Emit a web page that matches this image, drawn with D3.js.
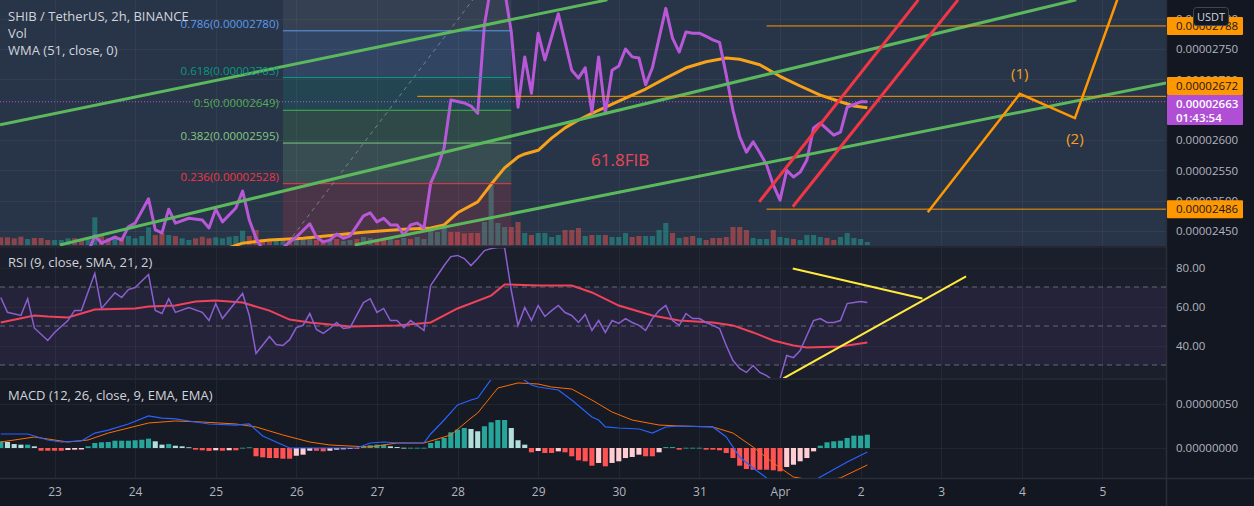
<!DOCTYPE html>
<html><head><meta charset="utf-8">
<script src="https://cdn.jsdelivr.net/npm/d3@7"></script>
<style>
html,body{margin:0;padding:0;background:#131722;overflow:hidden;}
svg{display:block;font-family:"Open Sans","Noto Sans",sans-serif;}
</style></head><body><svg id="c" width="1254" height="506"></svg>
<script>
// ================= DATA =================
// bar index k = number of 2h bars since 2021-03-23 00:00 UTC ; prices in 1e-8 USDT
const dayTicks  = ["2021-03-23","2021-03-24","2021-03-25","2021-03-26","2021-03-27","2021-03-28","2021-03-29","2021-03-30","2021-03-31","2021-04-01","2021-04-02","2021-04-03","2021-04-04","2021-04-05"];
const dayLabels = ["23","24","25","26","27","28","29","30","31","Apr","2","3","4","5"];
const priceTicks = [2450,2500,2550,2600,2700,2750,2800];
const rsiTicks = [40,60,80];
const rsiBands = [30,50,70];
const macdTicks = [0,5];

const price = [[4,2405],[5,2415],[6,2442],[7,2430],[9,2440],[10,2435],[11,2457],[12,2463],[14,2503],[15,2452],[16,2447],[17,2486],[18,2463],[20,2471],[22,2468],[23,2455],[24,2486],[25,2465],[27,2488],[28,2516],[29,2468],[30,2438],[31,2419],[32,2412],[33,2416],[34,2422],[35,2432],[36,2440],[38,2462],[39,2440],[40,2432],[41,2435],[42,2445],[43,2438],[44,2442],[46,2475],[47,2480],[48,2465],[49,2471],[50,2460],[51,2460],[52,2443],[53,2460],[54,2463],[55,2455],[56,2529],[57,2554],[58,2587],[59,2666],[61,2661],[62,2656],[63,2644],[64,2790],[65,2855],[66,2880],[67,2847],[68,2778],[69,2654],[70,2737],[71,2677],[72,2776],[73,2732],[75,2808],[77,2715],[78,2702],[79,2719],[80,2646],[81,2737],[82,2644],[83,2715],[84,2722],[85,2750],[86,2737],[87,2735],[88,2691],[89,2719],[91,2817],[92,2768],[93,2745],[94,2778],[95,2776],[96,2776],[97,2771],[98,2765],[99,2761],[100,2707],[101,2649],[102,2605],[103,2580],[104,2597],[105,2579],[106,2559],[107,2526],[108,2501],[109,2550],[110,2539],[111,2547],[112,2567],[113,2620],[114,2628],[116,2608],[117,2613],[118,2654],[120,2663],[121,2663]];
const wma = [[25,2419],[28,2430],[32,2435],[37,2438],[46,2448],[52,2453],[56,2455],[58,2460],[60,2480],[63,2498],[65,2527],[67,2554],[69,2572],[70,2577],[72,2583],[74,2603],[76,2620],[78,2633],[80,2644],[84,2664],[88,2684],[91,2702],[94,2719],[97,2729],[100,2735],[102,2733],[105,2724],[108,2705],[111,2689],[114,2674],[117,2663],[119,2656],[121,2653]];
const lastPrice = 2663, countdown = "01:43:54";

// volume per bar from k=-8 ; direction 1 = up candle, 0 = down candle
const volStart = -8;
const volume = [7.7,7.7,6.7,8.3,6,7,7,5,5,5,6.7,6.7,5,6.7, 27.7, 11,6.7,9,7.7,9,6.7,9,17.7,10,11.7,10,9,6.7,5,6.7,8.3,6.7,7.7,6.7,8.3,9,14.3,9,15,
 6,5,4,5,4,5,6,8,5,4,5,6,4,5,6,8,7,6,5,6,5,7,6,8,6,15,13,17,13,13,11.7,12,12,
 23,60,22,18,18,23,12,10,12,12,8,10,15,15,17,9,10,10,10,8,8,12,8,9,9,9,15,22,12,7,8,9,7,5,7,7,8,18,18,15,7,6,6,15,8,7,6,5,10,10,8,7,5,8,12,7,6,3];
const volDir = [0,0,0,0,1,0,0,0,1,1,1,0,0,1, 1, 0,0,1,0,1,1,1,1,0,0,1,0,1,1,0,0,0,1,1,1,1,1,0,0,
 0,0,1,1,0,1,1,1,0,0,1,0,1,1,0,1,1,0,0,1,0,1,0,1,1,1,1,1,0,0,0,0,0,
 1,1,1,1,0,0,1,0,1,1,1,1,0,0,0,1,0,1,0,1,1,1,0,0,1,1,1,1,0,1,0,0,1,0,0,0,0,0,0,0,1,1,1,0,1,1,0,1,1,1,1,0,0,1,1,1,1,1];

// Fibonacci retracement (drawn between bar 34 and bar 68)
const fibLevels = [0,0.236,0.382,0.5,0.618,0.786,1];
const fibPrices = [2420,2528,2595,2649,2703,2780,2878];
const fibColors = ["#787b86","#f23645","#81c784","#4caf50","#089981","#5d9cec","#787b86"];
const fibSpan = [34,68];
const fibTrend = [[34,2420],[65.5,2878]];

// user drawings  [bar, price]
const greenLines = [[[-8.1,2625],[82.3,2831]],[[0.8,2427],[152.1,2831]],[[44.7,2427],[165.5,2694]]];
const redLines = [[[104.9,2498],[128.6,2831]],[[109.9,2490],[134.5,2831]]];
const hLevels = [[2788,106],[2672,54],[2486,106]];
const wavePath = [[130,2481],[143.7,2676],[151.9,2636],[158.2,2831]];
const waveLabels = [["(1)",143.7,2676],["(2)",151.9,2636]];
const fibNote = ["61.8FIB",84.2,2567];

// RSI
const rsi = [[-8,64.6],[-7,57],[-5,55.4],[-4,64],[-3,49],[-1,42.6],[0,46.7],[2,52.8],[3,58],[4,58],[6,77],[7,59],[9,67],[10,64.6],[11,68.7],[12,69.7],[14,76.4],[15,58],[16,56.4],[17,64],[18,57],[20,59.5],[22,57],[23,52.8],[24,61.5],[25,53.8],[28,66.7],[29,55.4],[30,35.9],[32,44.6],[33,40.5],[34,40],[35,43],[36,49.2],[37,50.3],[38,56.4],[39,48.2],[40,46.2],[41,48.7],[42,51.8],[43,48.7],[44,49.2],[46,62],[47,64],[48,57],[49,59],[50,52.8],[51,52.8],[52,49.2],[53,52.8],[54,50.3],[55,47.7],[56,70.8],[57,75.9],[58,81],[59,85.6],[60,86.2],[61,84.6],[62,81],[63,84.6],[64,88.7],[65,89.7],[66,90.3],[67,90.3],[68,68.2],[69,50.3],[70,59.5],[71,52.8],[72,60.5],[73,54.9],[74,57.9],[75,60.5],[76,56.9],[77,55.4],[78,51.8],[79,55.9],[80,47.7],[81,52.8],[82,46.7],[83,52.8],[84,51.3],[85,53.8],[86,51.8],[87,50.3],[88,47.7],[89,53.8],[90,57.9],[91,60.5],[92,52.8],[93,50.3],[94,56.4],[95,53.8],[96,53.8],[97,51.8],[98,50.3],[99,48.7],[100,40],[101,32.3],[102,28.2],[103,26.2],[104,29.7],[105,26.2],[106,24.6],[107,22],[108,23],[109,34.9],[110,33.8],[111,37.4],[112,45.1],[113,52.8],[114,53.8],[115,51.8],[116,51.8],[117,52.8],[118,61.5],[119,62],[120,62.6],[121,62]];
const rsiMa = [[-8,51.8],[-3,55.4],[-1,54.9],[2,54.4],[4,56.4],[6,58.5],[12,59],[14,60],[18,60.5],[21,62.6],[24,63.1],[28,62],[32,57.9],[35,53.3],[38,51.8],[41,50.8],[44,49.7],[51,50.3],[56,51.8],[60,59],[65,65.6],[67,71.3],[72,70.8],[77,70.8],[80,67.2],[84,60.5],[89,55.4],[93,52.8],[98,51.8],[101,50.3],[104,46.7],[107,42.6],[110,40],[112,39],[117,39.5],[121,41.5]];
const rsiLines = [[[109.9,79.5],[129.2,64.1]],[[108.5,23.1],[135.7,75.4]]];

// MACD (values in 1e-8 USDT)
const macdLine = [[-8,1.59],[-4,1.59],[-1,0.91],[1,0.68],[4,0.8],[6,1.7],[8,2.04],[11,2.73],[14,3.64],[16,3.4],[18,3.3],[20,3.07],[23,2.73],[27,2.61],[29,2.73],[31,1.36],[34,0.34],[35,0],[38,0],[41,0],[45,0],[47,0.57],[49,0.68],[51,0.57],[55,0.57],[56,1.59],[58,3.18],[60,4.89],[62,5.45],[63,5.68],[65,7.8],[66,8.6],[67,9],[68,8.8],[69,8.2],[71,7.16],[72,6.93],[75,6.59],[77,5.45],[80,3.52],[81,3.18],[82,2.39],[84,2.27],[87,2.16],[89,1.7],[91,2.39],[93,2.5],[98,2.39],[100,1.25],[102,-1.02],[104,-2.27],[106,-3.4],[108,-4.2],[110,-4.6],[112,-4.2],[114,-3.3],[118,-1.59],[121,-0.45]];
const signalLine = [[-8,0.68],[-3,1.25],[2,0.68],[5,0.91],[8,1.7],[14,2.84],[18,3.07],[22,2.95],[27,2.73],[30,2.39],[34,1.48],[38,0.68],[41,0.34],[47,0.11],[51,0.57],[55,0.57],[59,1.48],[62,3.4],[63,3.98],[66,6.82],[69,7.39],[72,7.27],[74,6.93],[77,6.7],[80,5.45],[83,4.09],[86,3.18],[90,2.61],[93,2.5],[98,2.39],[101,1.7],[104,0.11],[107,-1.7],[110,-3.3],[114,-3.8],[117,-3.4],[121,-1.93]];
const histStart = -8;
const histogram = [0.76,0.68,0.45,0.38,0.38,0.19,-0.31,-0.31,-0.31,-0.31,-0.23,-0.19,-0.17,0.19,0.57,0.65,0.68,0.83,0.83,0.83,0.88,0.94,1.06,0.76,0.38,0.45,0.26,0.19,0.08,-0.19,-0.26,-0.34,-0.26,-0.31,-0.26,-0.26,0.03,0.08,-0.94,-1.06,-1.14,-1.14,-1.22,-1.22,-0.88,-0.76,-0.31,-0.31,-0.38,-0.31,-0.19,-0.15,-0.11,-0.11,0.19,0.31,0.38,0.38,0.19,0.11,0.03,0.03,0.03,0.03,0.57,0.83,1.14,1.78,2.08,2.27,2.16,1.9,2.47,2.92,3.18,3.18,2.27,0.88,0.38,-0.49,-0.34,-0.57,-0.57,-0.38,-0.49,-0.94,-1.4,-1.51,-2.01,-1.7,-2.08,-1.7,-1.51,-1.14,-1.02,-0.76,-0.94,-0.94,-0.49,0.11,0.11,-0.19,0.03,0.03,0.03,-0.19,-0.19,-0.26,-0.57,-1.14,-2.01,-2.39,-2.47,-2.47,-2.47,-2.53,-2.65,-2.16,-1.9,-1.51,-1.14,-0.38,0.26,0.65,0.76,0.83,1.14,1.4,1.4,1.51];

// ================= LAYOUT =================
const W = 1254, H = 506, PR = 1166;
const MAIN = [0, 246], RSIP = [248, 378], MACDP = [380, 478];
const T0 = Date.UTC(2021, 2, 23);
const x = d3.scaleUtc().domain([new Date(T0), new Date(Date.UTC(2021, 3, 1))]).range([54.5, 780]);
const bx = k => x(new Date(T0 + k * 2 * 3600e3));
const barW = bx(1) - bx(0);
const yP = d3.scaleLinear().domain([2450, 2750]).range([231, 49]);
const yV = d3.scaleLinear().domain([0, 60]).range([245, 185]);
const yR = d3.scaleLinear().domain([40, 80]).range([345.5, 267.5]);
const yM = d3.scaleLinear().domain([0, 5]).range([448, 404]);

const svg = d3.select("#c");
const defs = svg.append("defs");
function clip(id, y0, y1) {
  defs.append("clipPath").attr("id", id).append("rect").attr("x", 0).attr("y", y0).attr("width", PR).attr("height", y1 - y0);
}
clip("cm", MAIN[0], MAIN[1]); clip("cr", RSIP[0], RSIP[1]); clip("cd", MACDP[0], MACDP[1]);

svg.append("rect").attr("width", W).attr("height", H).attr("fill", "#131722");
svg.append("rect").attr("x", 0).attr("y", MAIN[0]).attr("width", PR).attr("height", MAIN[1] - MAIN[0]).attr("fill", "#283447");
svg.append("rect").attr("x", 0).attr("y", RSIP[0]).attr("width", PR).attr("height", RSIP[1] - RSIP[0]).attr("fill", "#1b1e2b");
svg.append("rect").attr("x", 0).attr("y", MACDP[0]).attr("width", PR).attr("height", MACDP[1] - MACDP[0]).attr("fill", "#161a25");

// separators
[[0, 247, PR, 247], [0, 379, PR, 379], [0, 478.5, W, 478.5], [PR + 0.5, 0, PR + 0.5, H]].forEach(s =>
  svg.append("line").attr("x1", s[0]).attr("y1", s[1]).attr("x2", s[2]).attr("y2", s[3]).attr("stroke", "#2a2e39").attr("stroke-width", 1.5));

const dates = dayTicks.map(d => new Date(d + "T00:00:00Z"));
// vertical grid
[MAIN, RSIP, MACDP].forEach(p => {
  svg.append("g").selectAll("line").data(dates).join("line")
    .attr("x1", d => Math.round(x(d)) + 0.5).attr("x2", d => Math.round(x(d)) + 0.5)
    .attr("y1", p[0]).attr("y2", p[1]).attr("stroke", "rgba(255,255,255,0.05)");
});
// horizontal grids
svg.append("g").attr("clip-path", "url(#cm)").selectAll("line").data(priceTicks).join("line")
  .attr("x1", 0).attr("x2", PR).attr("y1", d => Math.round(yP(d)) + 0.5).attr("y2", d => Math.round(yP(d)) + 0.5).attr("stroke", "rgba(255,255,255,0.05)");
svg.append("g").selectAll("line").data(rsiTicks).join("line")
  .attr("x1", 0).attr("x2", PR).attr("y1", d => Math.round(yR(d)) + 0.5).attr("y2", d => Math.round(yR(d)) + 0.5).attr("stroke", "rgba(255,255,255,0.04)");
svg.append("g").selectAll("line").data(macdTicks).join("line")
  .attr("x1", 0).attr("x2", PR).attr("y1", d => Math.round(yM(d)) + 0.5).attr("y2", d => Math.round(yM(d)) + 0.5).attr("stroke", "rgba(255,255,255,0.05)");

// ================= MAIN PANE =================
const gm = svg.append("g").attr("clip-path", "url(#cm)");
gm.append("g").selectAll("rect").data(volume).join("rect")
  .attr("x", (d, i) => bx(volStart + i) - barW * 0.38).attr("width", barW * 0.76)
  .attr("y", d => yV(d)).attr("height", d => yV(0) - yV(d))
  .attr("fill", (d, i) => volDir[i] ? "rgba(38,166,154,0.5)" : "rgba(239,83,80,0.5)");

const fx0 = bx(fibSpan[0]), fx1 = bx(fibSpan[1]);
for (let i = 1; i < fibLevels.length; i++) {
  gm.append("rect").attr("x", fx0).attr("width", fx1 - fx0)
    .attr("y", yP(fibPrices[i])).attr("height", yP(fibPrices[i - 1]) - yP(fibPrices[i]))
    .attr("fill", fibColors[i]).attr("fill-opacity", 0.17);
}
const line = (xs, ys) => d3.line().x(d => xs(d[0])).y(d => ys(d[1]));
const lp = line(bx, yP);

gm.append("line").attr("x1", 0).attr("x2", PR).attr("y1", yP(lastPrice)).attr("y2", yP(lastPrice))
  .attr("stroke", "#b858d8").attr("stroke-dasharray", "1,2").attr("stroke-width", 1);

gm.append("path").attr("d", lp(wma)).attr("fill", "none").attr("stroke", "#f7a21b").attr("stroke-width", 3).attr("stroke-linejoin", "round");
gm.append("path").attr("d", lp(price)).attr("fill", "none").attr("stroke", "#b858d8").attr("stroke-width", 3).attr("stroke-linejoin", "round");

for (let i = 0; i < fibLevels.length; i++) {
  gm.append("line").attr("x1", fx0).attr("x2", fx1).attr("y1", yP(fibPrices[i])).attr("y2", yP(fibPrices[i]))
    .attr("stroke", fibColors[i]).attr("stroke-width", 1);
}
gm.append("path").attr("d", lp(fibTrend)).attr("stroke", "#9598a1").attr("stroke-dasharray", "4,4").attr("stroke-width", 1).attr("fill", "none").attr("opacity", 0.7);

greenLines.forEach(l => gm.append("path").attr("d", lp(l)).attr("stroke", "#5cb85c").attr("stroke-width", 3).attr("fill", "none"));
hLevels.forEach(h => gm.append("line").attr("x1", bx(h[1])).attr("x2", PR).attr("y1", yP(h[0])).attr("y2", yP(h[0])).attr("stroke", "#ff9800").attr("stroke-width", 1));
redLines.forEach(l => gm.append("path").attr("d", lp(l)).attr("stroke", "#f23645").attr("stroke-width", 3).attr("fill", "none"));
gm.append("path").attr("d", lp(wavePath)).attr("stroke", "#ff9800").attr("stroke-width", 2.5).attr("fill", "none");
gm.selectAll("text.wave").data(waveLabels).join("text").attr("class", "wave")
  .attr("x", d => bx(d[1])).attr("y", (d, i) => yP(d[2]) + (i === 0 ? -15 : 26)).attr("text-anchor", "middle")
  .attr("fill", "#f6a11c").attr("font-size", 15).text(d => d[0]);
gm.append("text").attr("x", bx(fibNote[1])).attr("y", yP(fibNote[2]) + 6).attr("text-anchor", "middle")
  .attr("fill", "#e8475a").attr("font-size", 17).text(fibNote[0]);

for (let i = 0; i < fibLevels.length; i++) {
  const yy = yP(fibPrices[i]);
  if (yy < 8 || yy > 244) continue;
  svg.append("text").attr("x", fx0 - 4).attr("y", yy - 3).attr("text-anchor", "end").attr("font-size", 11.5)
    .attr("fill", fibColors[i]).text(`${fibLevels[i]}(${(fibPrices[i] * 1e-8).toFixed(8)})`);
}

[["SHIB / TetherUS, 2h, BINANCE", 21], ["Vol", 38], ["WMA (51, close, 0)", 55]].forEach(t =>
  svg.append("text").attr("x", 8).attr("y", t[1]).attr("font-size", 13).attr("fill", "#d1d4dc").text(t[0]));

const pAxis = svg.append("g").attr("transform", `translate(${PR},0)`)
  .call(d3.axisRight(yP).tickValues(priceTicks).tickFormat(v => (v * 1e-8).toFixed(8)).tickSize(0).tickPadding(10));
pAxis.select(".domain").remove();
pAxis.selectAll("text").attr("fill", "#b2b5be").attr("font-size", 11.5).attr("font-family", "Open Sans");

function tag(yc, h, bg, lines, fg, bold) {
  const g = svg.append("g");
  g.append("rect").attr("x", PR + 1).attr("y", yc - h / 2).attr("width", 76).attr("height", h).attr("fill", bg).attr("rx", 1);
  lines.forEach((t, i) => g.append("text").attr("x", PR + 10).attr("y", yc - h / 2 + 13 + i * 14).attr("font-size", 11.5)
    .attr("fill", fg).attr("font-weight", bold ? 600 : 400).text(t));
}
tag(yP(2788), 18, "#ff9800", [(2788e-8).toFixed(8)], "#131722");
tag(86, 18, "#ff9800", [(2672e-8).toFixed(8)], "#131722");
tag(110, 30, "#b04ed6", [(lastPrice * 1e-8).toFixed(8), countdown], "#ffffff", true);
tag(yP(2486), 18, "#ff9800", [(2486e-8).toFixed(8)], "#131722");
const ub = svg.append("g");
ub.append("rect").attr("x", 1193.5).attr("y", 7.5).attr("width", 35).attr("height", 18).attr("rx", 3).attr("fill", "#131722").attr("stroke", "#434651");
ub.append("text").attr("x", 1211).attr("y", 20.5).attr("text-anchor", "middle").attr("font-size", 11).attr("fill", "#d1d4dc").text("USDT");

// ================= RSI PANE =================
const gr = svg.append("g").attr("clip-path", "url(#cr)");
gr.append("rect").attr("x", 0).attr("width", PR).attr("y", yR(70)).attr("height", yR(30) - yR(70)).attr("fill", "#7e57c2").attr("fill-opacity", 0.1);
gr.selectAll("line.band").data(rsiBands).join("line").attr("class", "band")
  .attr("x1", 0).attr("x2", PR).attr("y1", d => yR(d)).attr("y2", d => yR(d))
  .attr("stroke", "#787b86").attr("stroke-dasharray", "5,4").attr("stroke-width", 1).attr("opacity", 0.8);
const lr = line(bx, yR);
gr.append("path").attr("d", lr(rsiMa)).attr("fill", "none").attr("stroke", "#f0435a").attr("stroke-width", 2);
gr.append("path").attr("d", lr(rsi)).attr("fill", "none").attr("stroke", "#8a5fd0").attr("stroke-width", 1.5);
rsiLines.forEach(l => gr.append("path").attr("d", lr(l)).attr("stroke", "#ffeb3b").attr("stroke-width", 2).attr("fill", "none"));
svg.append("text").attr("x", 8).attr("y", 267).attr("font-size", 13).attr("fill", "#d1d4dc").text("RSI (9, close, SMA, 21, 2)");
const rAxis = svg.append("g").attr("transform", `translate(${PR},0)`)
  .call(d3.axisRight(yR).tickValues(rsiTicks).tickFormat(d3.format(".2f")).tickSize(0).tickPadding(10));
rAxis.select(".domain").remove();
rAxis.selectAll("text").attr("fill", "#b2b5be").attr("font-size", 11.5).attr("font-family", "Open Sans");

// ================= MACD PANE =================
const gd = svg.append("g").attr("clip-path", "url(#cd)");
gd.selectAll("rect").data(histogram).join("rect")
  .attr("x", (d, i) => bx(histStart + i) - barW * 0.38).attr("width", barW * 0.76)
  .attr("y", d => d >= 0 ? yM(d) : yM(0)).attr("height", d => Math.max(0.8, Math.abs(yM(d) - yM(0))))
  .attr("fill", (d, i) => {
    const p = i > 0 ? histogram[i - 1] : d;
    if (d >= 0) return d >= p ? "#26a69a" : "#b2dfdb";
    return d <= p ? "#ff5252" : "#ffcdd2";
  });
const lm = line(bx, yM);
gd.append("path").attr("d", lm(signalLine)).attr("fill", "none").attr("stroke", "#ff6d00").attr("stroke-width", 1);
gd.append("path").attr("d", lm(macdLine)).attr("fill", "none").attr("stroke", "#2962ff").attr("stroke-width", 1.2);
svg.append("text").attr("x", 8).attr("y", 400).attr("font-size", 13).attr("fill", "#d1d4dc").text("MACD (12, 26, close, 9, EMA, EMA)");
const mAxis = svg.append("g").attr("transform", `translate(${PR},0)`)
  .call(d3.axisRight(yM).tickValues(macdTicks).tickFormat(v => (v * 1e-7).toFixed(8)).tickSize(0).tickPadding(10));
mAxis.select(".domain").remove();
mAxis.selectAll("text").attr("fill", "#b2b5be").attr("font-size", 11.5).attr("font-family", "Open Sans");

// ================= TIME AXIS =================
const tAxis = svg.append("g").attr("transform", "translate(0,480)")
  .call(d3.axisBottom(x).tickValues(dates).tickFormat((d, i) => dayLabels[i]).tickSize(0).tickPadding(7));
tAxis.select(".domain").remove();
tAxis.selectAll("text").attr("fill", "#b2b5be").attr("font-size", 12).attr("font-family", "Open Sans");
</script></body></html>
